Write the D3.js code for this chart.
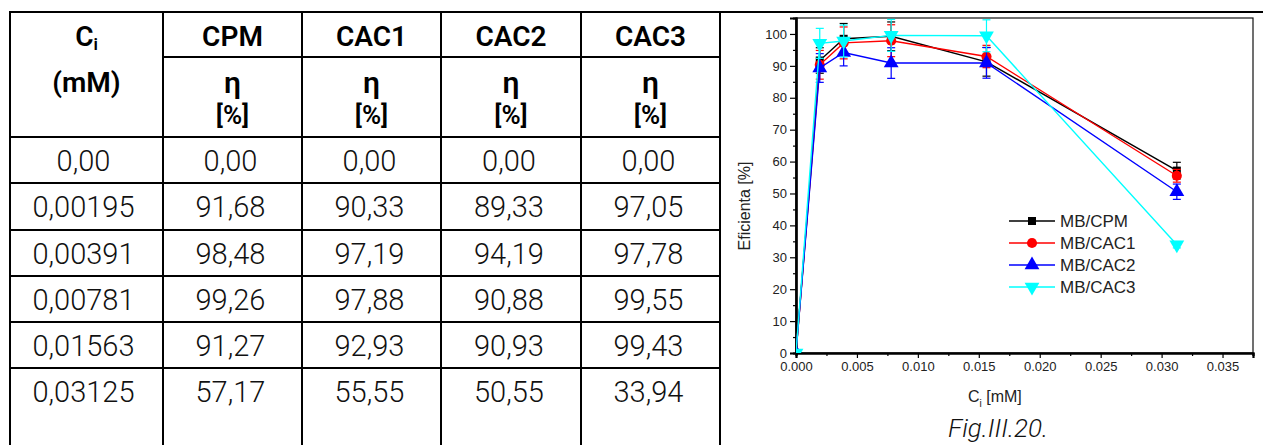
<!DOCTYPE html>
<html>
<head>
<meta charset="utf-8">
<script src="https://cdn.jsdelivr.net/npm/d3@7"></script>
<style>
  body { margin: 0; background: #fff; }
  svg { display: block; }
</style>
</head>
<body>
<svg id="chart" width="1263" height="445"></svg>
<script>
var concentrations = [0, 0.00195, 0.00391, 0.00781, 0.01563, 0.03125];
var ciLabels = ['0,00', '0,00195', '0,00391', '0,00781', '0,01563', '0,03125'];
var seriesNames = ['CPM', 'CAC1', 'CAC2', 'CAC3'];
var cpm = [0, 91.68, 98.48, 99.26, 91.27, 57.17];
var cac1 = [0, 90.33, 97.19, 97.88, 92.93, 55.55];
var cac2 = [0, 89.33, 94.19, 90.88, 90.93, 50.55];
var cac3 = [0, 97.05, 97.78, 99.55, 99.43, 33.94];
var errCpm = [0, 4, 4.8, 4.5, 4.5, 2.6];
var errCac1 = [0, 4.5, 5, 5, 3.5, 2];
var errCac2 = [0, 4.5, 4.2, 4.8, 4.8, 2.4];
var errCac3 = [0, 4.7, 5, 5, 5, 1];
var xTicks = [0, 0.005, 0.01, 0.015, 0.02, 0.025, 0.03, 0.035];
var yTicks = [0, 10, 20, 30, 40, 50, 60, 70, 80, 90, 100];

var svg = d3.select('#chart');

// ---------- table ----------
var colEdges = [10, 163, 302, 441, 581, 720];
var rowEdges = [137, 183, 230, 276, 322, 368];
var tableTop = 12, subLine = 57, bottom = 445;
var tFont = 'Roboto, "Noto Sans", sans-serif';

var lines = svg.append('g').attr('stroke', '#000').attr('stroke-width', 2);
// top border runs over the figure cell too
lines.append('line').attr('x1', colEdges[0]).attr('x2', 1263).attr('y1', tableTop).attr('y2', tableTop);
colEdges.forEach(function(x) {
    lines.append('line').attr('x1', x).attr('x2', x).attr('y1', tableTop - 1).attr('y2', bottom);
});
lines.append('line').attr('x1', colEdges[1]).attr('x2', colEdges[5]).attr('y1', subLine).attr('y2', subLine);
rowEdges.forEach(function(y) {
    lines.append('line').attr('x1', colEdges[0]).attr('x2', colEdges[5]).attr('y1', y).attr('y2', y);
});

var colCenter = function(i) { return (colEdges[i] + colEdges[i + 1]) / 2; };

// header
var head = svg.append('g').style('font-family', tFont).style('font-size', '28px')
    .style('font-weight', 600).attr('text-anchor', 'middle').attr('fill', '#000');
var ci = head.append('text').attr('x', colCenter(0)).attr('y', 46);
ci.append('tspan').text('C');
ci.append('tspan').text('i').style('font-size', '17px').attr('dy', 4);
head.append('text').attr('x', colCenter(0)).attr('y', 92).text('(mM)');
seriesNames.forEach(function(name, i) {
    head.append('text').attr('x', colCenter(i + 1)).attr('y', 46).text(name);
    head.append('text').attr('x', colCenter(i + 1)).attr('y', 93).text('η').style('font-size', '30px');
    head.append('text').attr('x', colCenter(i + 1)).attr('y', 124).text('[%]').style('font-size', '26px');
});

// body
var fmt = function(v) { return d3.format('.2f')(v).replace('.', ','); };
var allSeries = [cpm, cac1, cac2, cac3];
var body = svg.append('g').style('font-family', tFont).style('font-size', '29px')
    .style('font-weight', 300).attr('text-anchor', 'middle').attr('fill', '#111');
ciLabels.forEach(function(lab, r) {
    var y = rowEdges[r] + 34;
    body.append('text').attr('x', colCenter(0) - 3).attr('y', y).text(lab);
    allSeries.forEach(function(s, c) {
        body.append('text').attr('x', colCenter(c + 1) - 2).attr('y', y).text(fmt(s[r]));
    });
});

// ---------- chart ----------
var x = d3.scaleLinear().domain([0, 0.0375]).range([796, 1253]);
var y = d3.scaleLinear().domain([0, 105]).range([353, 18]);
var aFont = '"Liberation Sans", Arial, sans-serif';

svg.append('defs').append('clipPath').attr('id', 'plotclip')
    .append('rect').attr('x', 796).attr('y', 18).attr('width', 457).attr('height', 335);

// frame
svg.append('rect').attr('x', 796).attr('y', 18).attr('width', 457).attr('height', 335)
    .attr('fill', 'none').attr('stroke', '#111').attr('stroke-width', 1.2);

var xAxis = svg.append('g').attr('transform', 'translate(0,353)')
    .call(d3.axisBottom(x).tickValues(xTicks).tickFormat(d3.format('.3f')).tickSize(5).tickPadding(4));
var xMinor = svg.append('g').attr('transform', 'translate(0,353)')
    .call(d3.axisBottom(x).tickValues(d3.range(0.0025, 0.0376, 0.005)).tickFormat('').tickSize(3));
var yAxis = svg.append('g').attr('transform', 'translate(796,0)')
    .call(d3.axisLeft(y).tickValues(yTicks).tickSize(6).tickPadding(3));
var yMinor = svg.append('g').attr('transform', 'translate(796,0)')
    .call(d3.axisLeft(y).tickValues(d3.range(5, 101, 10)).tickFormat('').tickSize(3));

[xAxis, xMinor, yAxis, yMinor].forEach(function(a) {
    a.selectAll('.domain').attr('stroke', '#000').attr('stroke-width', 2.2);
    a.selectAll('.tick line').attr('stroke', '#000').attr('stroke-width', 1.2);
    a.selectAll('.tick text').style('font-family', aFont).style('font-size', '13px').attr('fill', '#222');
});

// axis titles
svg.append('text').attr('transform', 'translate(750,206) rotate(-90)')
    .attr('text-anchor', 'middle').style('font-family', aFont).style('font-size', '16px')
    .attr('fill', '#222').text('Eficienta [%]');
var xt = svg.append('text').attr('x', 968).attr('y', 402)
    .style('font-family', aFont).style('font-size', '16px').attr('fill', '#222');
xt.append('tspan').text('C');
xt.append('tspan').text('i').style('font-size', '10px').attr('dy', 5);
xt.append('tspan').text(' [mM]').attr('dy', -5);

svg.append('text').attr('x', 998).attr('y', 437).attr('text-anchor', 'middle')
    .style('font-family', tFont).style('font-size', '26px').style('font-style', 'italic')
    .style('font-weight', 300).attr('fill', '#111').text('Fig.III.20.');

// series
var series = [
    { name: 'MB/CPM', vals: cpm, err: errCpm, color: '#000000', sym: d3.symbolSquare, size: 64, rot: 0 },
    { name: 'MB/CAC1', vals: cac1, err: errCac1, color: '#ff0000', sym: d3.symbolCircle, size: 80, rot: 0 },
    { name: 'MB/CAC2', vals: cac2, err: errCac2, color: '#0000ff', sym: d3.symbolTriangle, size: 95, rot: 0 },
    { name: 'MB/CAC3', vals: cac3, err: errCac3, color: '#00ffff', sym: d3.symbolTriangle, size: 95, rot: 180 }
];

var plot = svg.append('g').attr('clip-path', 'url(#plotclip)');
var line = d3.line().x(function(d) { return x(d[0]); }).y(function(d) { return y(d[1]); });

series.forEach(function(s) {
    var pts = concentrations.map(function(c, i) { return [c, s.vals[i], s.err[i]]; });
    var g = plot.append('g');
    g.append('path').datum(pts).attr('d', line).attr('fill', 'none')
        .attr('stroke', s.color).attr('stroke-width', 1.4);

    var eb = g.selectAll('.eb').data(pts.filter(function(p) { return p[2] > 0; })).enter()
        .append('g').attr('stroke', s.color).attr('stroke-width', 1.2);
    eb.append('line').attr('x1', function(d) { return x(d[0]); }).attr('x2', function(d) { return x(d[0]); })
        .attr('y1', function(d) { return y(d[1] - d[2]); }).attr('y2', function(d) { return y(d[1] + d[2]); });
    [-1, 1].forEach(function(sign) {
        eb.append('line').attr('x1', function(d) { return x(d[0]) - 4; }).attr('x2', function(d) { return x(d[0]) + 4; })
            .attr('y1', function(d) { return y(d[1] + sign * d[2]); }).attr('y2', function(d) { return y(d[1] + sign * d[2]); });
    });

    g.selectAll('.mk').data(pts).enter().append('path')
        .attr('d', d3.symbol().type(s.sym).size(s.size))
        .attr('transform', function(d) { return 'translate(' + x(d[0]) + ',' + y(d[1]) + ') rotate(' + s.rot + ')'; })
        .attr('fill', s.color);
});

// legend
var legend = svg.append('g').attr('transform', 'translate(1009,221)');
series.forEach(function(s, i) {
    var row = legend.append('g').attr('transform', 'translate(0,' + i * 22 + ')');
    row.append('line').attr('x1', 0).attr('x2', 46).attr('stroke', s.color).attr('stroke-width', 1.4);
    row.append('path').attr('d', d3.symbol().type(s.sym).size(s.size))
        .attr('transform', 'translate(23,0) rotate(' + s.rot + ')').attr('fill', s.color);
    row.append('text').attr('x', 51).attr('dy', '0.35em').style('font-family', aFont)
        .style('font-size', '17px').attr('fill', '#222').text(s.name);
});
</script>
</body>
</html>
